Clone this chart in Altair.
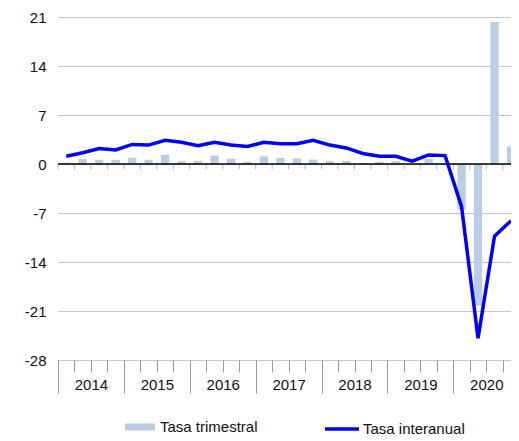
import json
import altair as alt
import pandas as pd

years = ["2014", "2015", "2016", "2017", "2018", "2019", "2020"]
quarters = ["T1", "T2", "T3", "T4"]

# Tasa trimestral (bars), one value per quarter 2014T1..2020T4
trimestral = [
    0.2, 0.7, 0.6, 0.6,
    0.9, 0.6, 1.3, 0.4,
    0.45, 1.2, 0.75, 0.3,
    1.1, 0.85, 0.8, 0.65,
    0.4, 0.45, 0.1, 0.3,
    0.4, -0.15, 0.75, 0.05,
    -6.5, -20.2, 20.3, 2.5,
]
# Tasa interanual (line)
interanual = [
    1.1, 1.6, 2.2, 2.0,
    2.8, 2.7, 3.4, 3.1,
    2.6, 3.1, 2.7, 2.5,
    3.1, 2.9, 2.9, 3.4,
    2.7, 2.3, 1.5, 1.1,
    1.1, 0.4, 1.3, 1.2,
    -6.1, -24.9, -10.3, -8.1,
]
y_ticks = [-28, -21, -14, -7, 0, 7, 14, 21]

n = len(trimestral)
nq = len(quarters)
df = pd.DataFrame({
    "q": list(range(n)),
    "trimestral": trimestral,
    "interanual": interanual,
})
df["mid"] = df["q"] + 0.5
df["b0"] = df["q"] + 0.25
df["b1"] = df["q"] + 0.75
df["base"] = 0.0
df["s1"] = "Tasa trimestral"
df["s2"] = "Tasa interanual"

bounds = pd.DataFrame({"b": list(range(n)), "z": [0] * n})
zero_df = pd.DataFrame({"z": [0]})

FONT = "Liberation Sans"
GREY = "#9a9a9a"

xscale = alt.Scale(domain=[0, n - 0.5], nice=False, zero=False, padding=0)
yscale = alt.Scale(domain=[y_ticks[0], y_ticks[-1]], nice=False, padding=0)

yaxis = alt.Axis(
    values=y_ticks, grid=True, gridDash=[1, 1], gridColor="#8a8a8a",
    domain=False, ticks=False, labelFontSize=15, labelColor="#111111",
    labelFont=FONT, labelPadding=12, labelExpr="'' + datum.value", title=None,
)

q_axis = alt.Axis(
    orient="bottom", values=list(range(n)), tickSize=12, tickColor=GREY,
    labels=False, domain=False, grid=False, title=None,
)
y_axis_ticks = alt.Axis(
    orient="bottom", values=list(range(0, n, nq)), tickSize=33, tickColor=GREY,
    labels=False, domain=False, grid=False, title=None,
)
year_label_axis = alt.Axis(
    orient="bottom", values=[i * nq + nq / 2 for i in range(len(years))],
    ticks=False, domain=False, grid=False, title=None,
    labelExpr=json.dumps(years) + "[floor(datum.value / 4)]",
    labelFontSize=15, labelFont=FONT, labelColor="#111111", labelPadding=17,
)

bars = alt.Chart(df).mark_bar(clip=True).encode(
    x=alt.X("b0:Q", scale=xscale, axis=q_axis),
    x2="b1",
    y=alt.Y("trimestral:Q", scale=yscale, axis=yaxis),
    y2="base",
    fill=alt.Fill(
        "s1:N",
        scale=alt.Scale(domain=["Tasa trimestral"], range=["#b9cde5"]),
        legend=alt.Legend(
            title=None, orient="none", legendX=67, legendY=395,
            symbolType="M-1,-0.233H1V0.233H-1Z", symbolSize=900,
            symbolStrokeWidth=0, symbolOpacity=1, labelFontSize=15,
            labelFont=FONT, labelColor="#111111", labelOffset=5, padding=0,
        ),
    ),
)

line = alt.Chart(df).mark_line(clip=True, strokeWidth=3.5).encode(
    x=alt.X("mid:Q", scale=xscale, axis=y_axis_ticks),
    y=alt.Y("interanual:Q", scale=yscale, axis=yaxis),
    stroke=alt.Stroke(
        "s2:N",
        scale=alt.Scale(domain=["Tasa interanual"], range=["#0000ff"]),
        legend=alt.Legend(
            title=None, orient="none", legendX=265, legendY=393,
            symbolType="stroke", symbolSize=1156, symbolStrokeWidth=3.5,
            labelFontSize=15, labelFont=FONT, labelColor="#111111",
            labelOffset=2, padding=0,
        ),
    ),
)

zero_line = alt.Chart(zero_df).mark_rule(color="black", strokeWidth=1.5).encode(
    y=alt.Y("z:Q", scale=yscale, axis=yaxis),
)

zero_ticks = alt.Chart(bounds).mark_tick(
    orient="vertical", size=5, thickness=1, yOffset=3, color=GREY,
).encode(
    x=alt.X("b:Q", scale=xscale, axis=year_label_axis),
    y=alt.Y("z:Q", scale=yscale, axis=yaxis),
)

chart = alt.layer(bars, zero_ticks, zero_line, line).resolve_scale(
    x="shared", y="shared"
).resolve_axis(
    x="independent", y="shared"
).properties(
    width=453, height=343,
    autosize=alt.AutoSizeParams(type="none"),
    padding={"left": 50, "top": 9, "right": 0, "bottom": 77},
    background="white",
).configure_view(stroke=None)

chart.save("out.html", embed_options={"renderer": "svg", "actions": False})
